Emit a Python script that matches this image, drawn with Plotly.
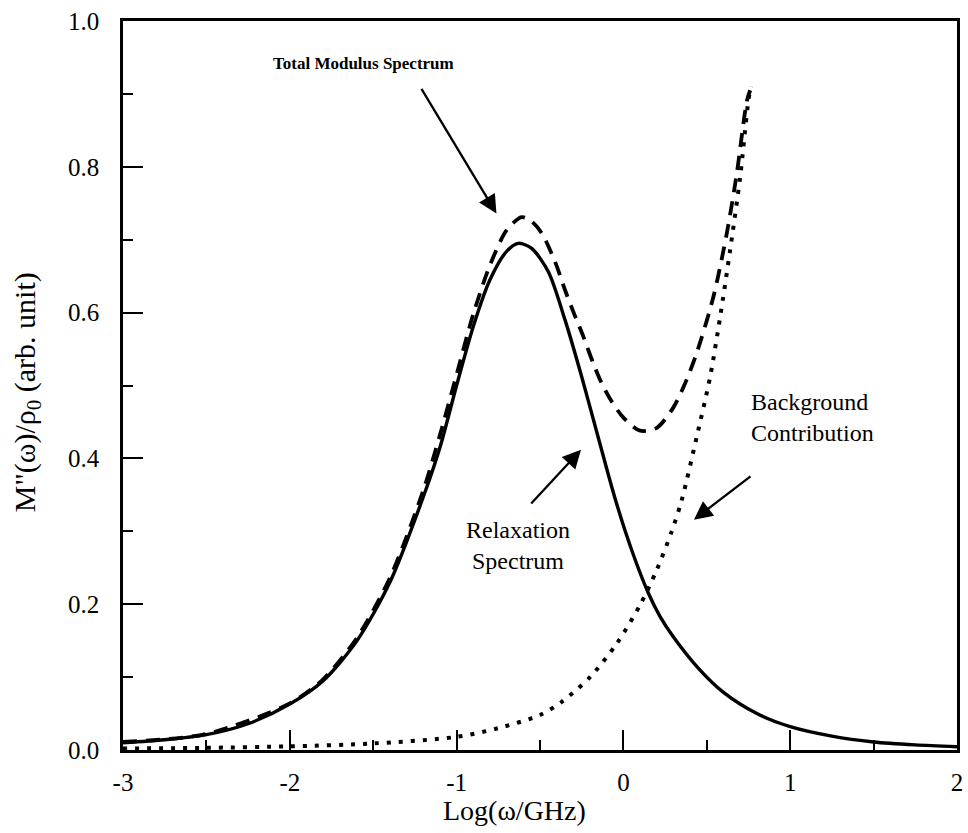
import plotly.graph_objects as go

# ---- data ----
relax_x = [-3.0, -2.75, -2.5, -2.25, -2.0, -1.8, -1.6, -1.4, -1.2, -1.1, -1.0, -0.9, -0.8,
           -0.7, -0.63, -0.55, -0.45, -0.35, -0.25, -0.15, -0.05, 0.05, 0.15, 0.22, 0.3, 0.45,
           0.6, 0.8, 1.0, 1.25, 1.5, 1.75, 2.0]
relax_y = [0.010, 0.014, 0.021, 0.036, 0.063, 0.095, 0.149, 0.230, 0.347, 0.415, 0.500, 0.581,
           0.645, 0.684, 0.695, 0.688, 0.656, 0.590, 0.512, 0.428, 0.345, 0.274, 0.215, 0.183,
           0.155, 0.112, 0.079, 0.050, 0.032, 0.019, 0.011, 0.007, 0.0045]

total_x = [-3.0, -2.5, -2.0, -1.8, -1.6, -1.4, -1.2, -1.1, -1.0, -0.9, -0.8, -0.7, -0.61,
           -0.55, -0.49, -0.41, -0.35, -0.30, -0.24, -0.18, -0.13, -0.07, 0.0, 0.1, 0.2,
           0.3, 0.37, 0.44, 0.54, 0.62, 0.68, 0.74, 0.76]
total_y = [0.011, 0.022, 0.064, 0.097, 0.153, 0.236, 0.356, 0.432, 0.515, 0.598, 0.665, 0.713,
           0.731, 0.725, 0.709, 0.670, 0.631, 0.601, 0.567, 0.530, 0.503, 0.478, 0.456, 0.438,
           0.442, 0.470, 0.503, 0.545, 0.622, 0.709, 0.791, 0.890, 0.905]

bg_x = [-3.0, -2.5, -2.0, -1.5, -1.0, -0.75, -0.5, -0.37, -0.2, -0.04, 0.1, 0.2, 0.29, 0.35,
        0.44, 0.52, 0.58, 0.64, 0.70, 0.75, 0.765]
bg_y = [0.002, 0.003, 0.005, 0.009, 0.018, 0.030, 0.048, 0.066, 0.100, 0.146, 0.199, 0.247,
        0.300, 0.343, 0.430, 0.512, 0.594, 0.686, 0.786, 0.892, 0.910]

x_ticks = [-3, -2, -1, 0, 1, 2]
x_tick_labels = ["-3", "-2", "-1", "0", "1", "2"]
y_ticks = [0.0, 0.2, 0.4, 0.6, 0.8, 1.0]
y_tick_labels = ["0.0", "0.2", "0.4", "0.6", "0.8", "1.0"]

FONT = "Liberation Serif"

fig = go.Figure()
fig.add_trace(go.Scatter(x=bg_x, y=bg_y, mode="lines",
                         line=dict(color="black", width=4, dash="4px,8px", shape="spline", smoothing=0.8),
                         showlegend=False, hoverinfo="skip"))
fig.add_trace(go.Scatter(x=total_x, y=total_y, mode="lines",
                         line=dict(color="black", width=3.8, dash="14px,9px", shape="spline", smoothing=0.8),
                         showlegend=False, hoverinfo="skip"))
fig.add_trace(go.Scatter(x=relax_x, y=relax_y, mode="lines",
                         line=dict(color="black", width=3.4, shape="spline", smoothing=0.8),
                         showlegend=False, hoverinfo="skip"))

axis_common = dict(showgrid=False, zeroline=False, showline=True, linecolor="black",
                   linewidth=2.5, mirror=True, ticks="inside", ticklen=20, tickwidth=2,
                   tickcolor="black", tickfont=dict(family=FONT, size=25, color="black"))

fig.update_xaxes(range=[-3, 2], tickmode="array", tickvals=x_ticks, ticktext=x_tick_labels,
                 ticklabelstandoff=8,
                 minor=dict(ticks="inside", ticklen=10, tickwidth=2, tickcolor="black", dtick=0.5, tick0=-3),
                 **axis_common)
fig.update_yaxes(range=[0, 1.0], tickmode="array", tickvals=y_ticks, ticktext=y_tick_labels,
                 ticklabelstandoff=16,
                 minor=dict(ticks="inside", ticklen=10, tickwidth=2, tickcolor="black", dtick=0.1, tick0=0),
                 **axis_common)

ann_font = dict(family=FONT, size=24, color="black")
annotations = [
    # axis titles
    dict(text="Log(ω/GHz)", xref="paper", yref="paper", x=0.470, y=-0.0835,
         showarrow=False, font=dict(family=FONT, size=28, color="black"), xanchor="center", yanchor="middle"),
    dict(text="M\"(ω)/ρ<sub>0</sub> (arb. unit)", xref="paper", yref="paper", x=-0.115, y=0.491,
         showarrow=False, textangle=-90, font=dict(family=FONT, size=30, color="black"),
         xanchor="center", yanchor="middle"),
    # labels
    dict(text="<b>Total Modulus Spectrum</b>", xref="x", yref="y", x=-1.556, y=0.942, showarrow=False,
         font=dict(family=FONT, size=17, color="black"), xanchor="center", yanchor="middle"),
    dict(text="Relaxation<br>Spectrum", xref="x", yref="y", x=-0.63, y=0.281, showarrow=False,
         font=ann_font, xanchor="center", yanchor="middle"),
    dict(text="Background<br>Contribution", xref="x", yref="y", x=0.755, y=0.456, showarrow=False,
         font=ann_font, xanchor="left", yanchor="middle", align="left"),
    # arrows
    dict(text="", xref="x", yref="y", axref="x", ayref="y", x=-0.761, y=0.736, ax=-1.216, ay=0.909,
         showarrow=True, arrowhead=2, arrowsize=1.6, arrowwidth=2.3, arrowcolor="black"),
    dict(text="", xref="x", yref="y", axref="x", ayref="y", x=-0.254, y=0.412, ax=-0.561, ay=0.336,
         showarrow=True, arrowhead=2, arrowsize=1.6, arrowwidth=2.3, arrowcolor="black"),
    dict(text="", xref="x", yref="y", axref="x", ayref="y", x=0.423, y=0.316, ax=0.771, ay=0.377,
         showarrow=True, arrowhead=2, arrowsize=1.6, arrowwidth=2.3, arrowcolor="black"),
]

fig.update_layout(width=968, height=833, margin=dict(l=123, r=5, t=21, b=83),
                  plot_bgcolor="white", paper_bgcolor="white",
                  font=dict(family=FONT, color="black"), annotations=annotations, showlegend=False)

fig.write_html("out.html")
